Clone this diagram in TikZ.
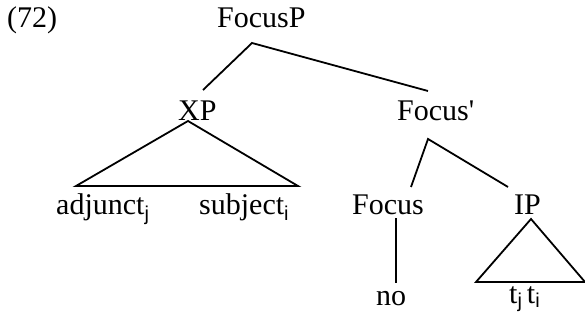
\documentclass[tikz,border=0pt]{standalone}
\usepackage{fontspec}
\setmainfont{Liberation Serif}
\newfontfamily\plainserif[Ligatures=TeXOff]{Liberation Serif}
\newfontfamily\subfont{Liberation Sans}
\newcommand{\mysub}[2][6pt]{\raisebox{-#1}{\fontsize{20}{20}\subfont #2}}
\begin{document}
\begin{tikzpicture}[x=1pt,y=-1pt,
  lab/.style={anchor=base west,inner sep=0pt,font=\fontsize{30}{30}\selectfont},
  br/.style={line width=1.8pt},
  thin/.style={line width=1.2pt}]
\useasboundingbox (0,0) rectangle (585,323);
\node[lab] (num) at (7,28) {(72)};
\node[lab] (fp) at (217,28) {FocusP};
\node[lab] (xp) at (178,121) {XP};
\node[lab] (fbar) at (397,121) {\plainserif Focus'};
\node[lab] (adj) at (56,214) {adjunct\mysub{j}};
\node[lab] (subj) at (199,214) {subject\mysub{i}};
\node[lab] (foc) at (352,214) {Focus};
\node[lab] (ip) at (514,214) {IP};
\node[lab] (no) at (376,305) {no};
\node[lab] (tt) at (509,303) {t\mysub[4pt]{j}\,t\mysub[4pt]{i}};
% coordinates
\coordinate (fpA) at (252,43);
\coordinate (fpL) at (203,90);
\coordinate (fpR) at (428,91);
\coordinate (xpA) at (188,121);
\coordinate (xpL) at (76,186);
\coordinate (xpR) at (298,186);
\coordinate (fbA) at (428,139);
\coordinate (fbL) at (411,187);
\coordinate (fbR) at (508,187);
\coordinate (fT) at (396,218);
\coordinate (fB) at (396,283);
\coordinate (ipA) at (531,219);
\coordinate (ipL) at (476,282);
\coordinate (ipR) at (585,282);
\draw[br] (fpL) -- (fpA) -- (fpR);
\draw[br] (xpA) -- (xpL) -- (xpR) -- cycle;
\draw[br] (fbL) -- (fbA) -- (fbR);
\draw[thin] (fT) -- (fB);
\draw[br] (ipA) -- (ipL) -- (ipR) -- cycle;
\end{tikzpicture}
\end{document}
